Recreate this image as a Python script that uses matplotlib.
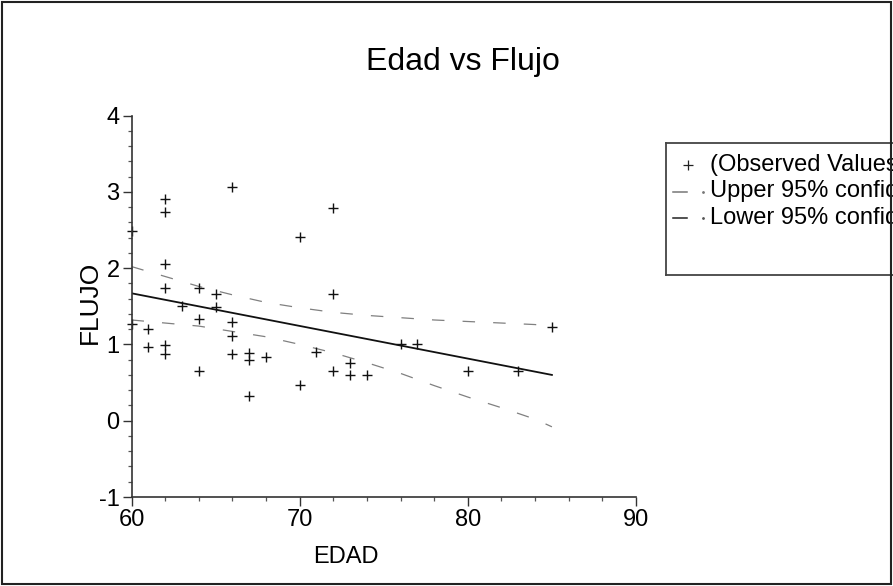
import numpy as np
import matplotlib
matplotlib.use("Agg")
import matplotlib.pyplot as plt
from matplotlib.patches import Rectangle
from matplotlib.ticker import MultipleLocator

plt.rcParams['font.family'] = ['Liberation Sans', 'DejaVu Sans']
plt.rcParams['axes.unicode_minus'] = False

# observed values (EDAD, FLUJO)
edad = [60, 60, 61, 61, 62, 62, 62, 62, 62, 62, 63, 64, 64, 64, 65, 65,
        66, 66, 66, 66, 67, 67, 67, 68, 70, 70, 71, 72, 72, 72, 73, 73,
        74, 76, 77, 80, 83, 85]
flujo = [2.49, 1.27, 1.20, 0.96, 2.90, 2.73, 2.06, 1.74, 0.99, 0.87, 1.50,
         1.74, 1.33, 0.65, 1.66, 1.49, 3.06, 1.30, 1.11, 0.87, 0.89, 0.80,
         0.33, 0.84, 2.41, 0.47, 0.90, 2.79, 1.66, 0.65, 0.76, 0.60, 0.60,
         1.00, 1.00, 0.65, 0.65, 1.23]

# fitted line
fit_x = [60, 85]
fit_y = [1.67, 0.60]

# 95% confidence limits
band_x = [60, 62, 64, 66, 68, 70, 72, 74, 76, 78, 80, 82, 84, 85]
upper = [2.02, 1.89, 1.76, 1.65, 1.55, 1.48, 1.42, 1.38, 1.35, 1.32, 1.30,
         1.28, 1.26, 1.23]
lower = [1.32, 1.28, 1.24, 1.17, 1.10, 1.00, 0.89, 0.76, 0.62, 0.46, 0.31,
         0.17, 0.02, -0.08]

W, H = 893, 586
fig = plt.figure(figsize=(W / 100, H / 100), dpi=100)
ax = fig.add_axes([131.5 / W, 1 - 497 / H, (636 - 131.5) / W, (497 - 115.5) / H])

ax.plot(band_x, upper, color='#808080', lw=0.9, dashes=(10, 14.5))
ax.plot(band_x, lower, color='#808080', lw=0.9, dashes=(10, 14.5))
ax.plot(fit_x, fit_y, color='#111111', lw=1.3)
ax.plot(edad, flujo, ls='none', marker='+', ms=7, mew=1.0, color='#111111',
        clip_on=False)

ax.set_xlim(60, 90)
ax.set_ylim(-1, 4)
ax.xaxis.set_major_locator(MultipleLocator(10))
ax.xaxis.set_minor_locator(MultipleLocator(2))
ax.yaxis.set_major_locator(MultipleLocator(1))
ax.yaxis.set_minor_locator(MultipleLocator(0.2))
for s in ['top', 'right']:
    ax.spines[s].set_visible(False)
for s in ['left', 'bottom']:
    ax.spines[s].set_color('#333333')
    ax.spines[s].set_linewidth(1.2)
ax.tick_params(which='major', length=6.5, width=1.0, color='#333333',
               labelsize=17, pad=2)
ax.tick_params(which='minor', length=3, width=0.9, color='#555555')

ax.set_xlabel('EDAD', fontsize=17)
ax.xaxis.set_label_coords((346 - 131.5) / 504.5, -0.128)
ax.set_ylabel('FLUJO', fontsize=19)
ax.yaxis.set_label_coords(-0.058, (497 - 302) / 381.5)

fig.text(463 / W, 1 - 62 / H, 'Edad vs Flujo', ha='center', va='center',
         fontsize=23)

# legend box, runs off the right edge like the original
lg = fig.add_axes([666 / W, 1 - 275 / H, 300 / W, 132 / H])
lg.set_xlim(0, 300)
lg.set_ylim(132, 0)
lg.set_xticks([])
lg.set_yticks([])
for s in lg.spines.values():
    s.set_color('#444444')
    s.set_linewidth(1.3)
lg.plot(22, 22, marker='+', ms=7, mew=0.9, color='#222222')
lg.text(44, 22, '(Observed Values)', va='center', fontsize=17)
lg.plot([7, 21], [48.5, 48.5], color='#777777', lw=1.1)
lg.plot(37, 48.5, marker='.', ms=2, color='#777777')
lg.text(44, 48.5, 'Upper 95% confidence limit', va='center', fontsize=17)
lg.plot([7, 21], [75, 75], color='#222222', lw=1.1)
lg.plot(37, 75, marker='.', ms=2, color='#555555')
lg.text(44, 75, 'Lower 95% confidence limit', va='center', fontsize=17)

fig.add_artist(Rectangle((0.002, 0.003), 0.996, 0.994, transform=fig.transFigure,
                         fill=False, ec='#222222', lw=1.5))

fig.savefig('out.png', dpi=100)
